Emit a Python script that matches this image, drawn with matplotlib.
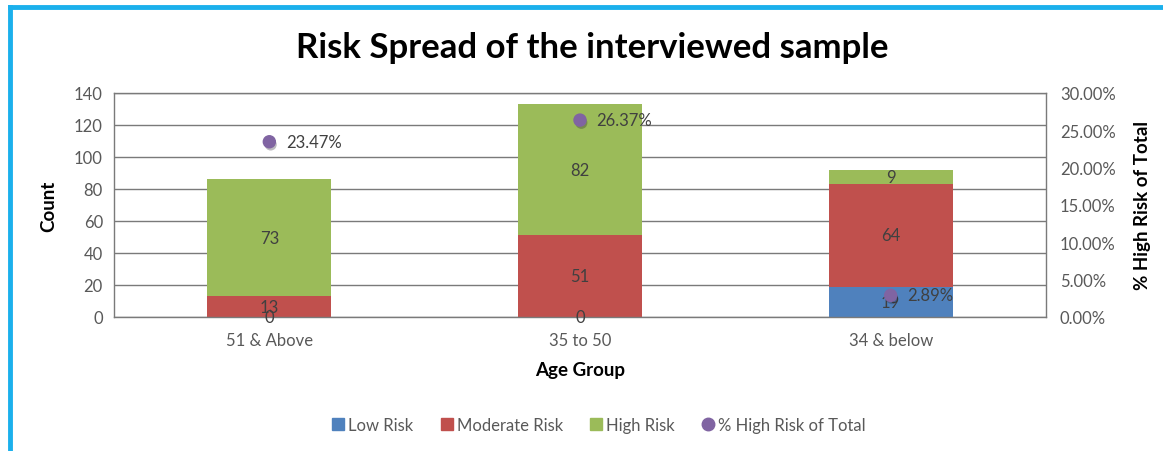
import matplotlib
matplotlib.use("Agg")
import matplotlib.pyplot as plt
import matplotlib.patheffects as pe
from matplotlib.lines import Line2D
from matplotlib.ticker import FuncFormatter, MultipleLocator
import numpy as np

plt.rcParams['font.family'] = ['Lato', 'DejaVu Sans']

categories = ["51 & Above", "35 to 50", "34 & below"]
low_risk = [0, 0, 19]
moderate_risk = [13, 51, 64]
high_risk = [73, 82, 9]
pct_high = [23.47, 26.37, 2.89]
series_names = ["Low Risk", "Moderate Risk", "High Risk", "% High Risk of Total"]

c_low = "#4F81BD"
c_mod = "#C0504D"
c_high = "#9BBB59"
c_pct = "#8064A2"
grid_c = "#7a7a7a"
tick_c = "#595959"
lab_c = "#404040"

fig = plt.figure(figsize=(11.63, 4.52), dpi=100)
ax = fig.add_axes([114/1163, 1-318/452, (1046-114)/1163, (318-94)/452])
x = np.arange(len(categories))
w = 0.40

low = np.array(low_risk)
mod = np.array(moderate_risk)
high = np.array(high_risk)

b1 = ax.bar(x, low, w, color=c_low, zorder=2, label=series_names[0])
b2 = ax.bar(x, mod, w, bottom=low, color=c_mod, zorder=2, label=series_names[1])
b3 = ax.bar(x, high, w, bottom=low + mod, color=c_high, zorder=2, label=series_names[2])

for bars, vals, bottoms in [(b1, low, np.zeros(3)), (b2, mod, low), (b3, high, low + mod)]:
    for xi, v, b in zip(x, vals, bottoms):
        ax.text(xi, b + v / 2, f"{v}", ha="center", va="center", fontsize=12,
                color=lab_c, zorder=5)

ax.set_xlim(-0.5, 2.5)
ax.set_ylim(0, 140)
ax.yaxis.set_major_locator(MultipleLocator(20))
ax.grid(axis="y", color=grid_c, linewidth=1.0, zorder=0)
ax.set_axisbelow(True)
for s in ax.spines.values():
    s.set_color(grid_c)
    s.set_linewidth(1.0)
ax.set_xticks(x)
ax.set_xticklabels(categories)
ax.tick_params(axis="both", length=0, labelsize=12, labelcolor=tick_c, pad=8)
ax.tick_params(axis="x", pad=11)
ax.set_ylabel("Count", fontsize=13.5, fontweight="bold", color="black", labelpad=12)
ax.set_xlabel("Age Group", fontsize=13.5, fontweight="bold", color="black", labelpad=9)

ax2 = ax.twinx()
ax2.set_ylim(0, 0.30)
ax2.yaxis.set_major_locator(MultipleLocator(0.05))
ax2.yaxis.set_major_formatter(FuncFormatter(lambda v, p: f"{v*100:.2f}%"))
ax2.tick_params(axis="y", length=0, labelsize=12, labelcolor=tick_c, pad=10)
for s in ax2.spines.values():
    s.set_visible(False)
pct = np.array(pct_high) / 100
sc = ax2.scatter(x, pct, s=75, color=c_pct, zorder=6, label=series_names[3],
                 path_effects=[pe.SimplePatchShadow(offset=(1, -2), alpha=0.3), pe.Normal()])
for xi, v in zip(x, pct_high):
    ax2.annotate(f"{v:.2f}%", (xi, v / 100), xytext=(12, 0), textcoords="offset points",
                 ha="left", va="center", fontsize=12, color=lab_c, zorder=7)
ax2.set_ylabel("% High Risk of Total", fontsize=13.5, fontweight="bold", color="black",
               labelpad=13)

fig.suptitle("Risk Spread of the interviewed sample", x=592/1163, y=1-48/452,
             va="center", fontsize=25, fontweight="bold", color="black")

handles = [
    Line2D([], [], marker="s", linestyle="none", color=c_low, markersize=8),
    Line2D([], [], marker="s", linestyle="none", color=c_mod, markersize=8),
    Line2D([], [], marker="s", linestyle="none", color=c_high, markersize=8),
    Line2D([], [], marker="o", linestyle="none", color=c_pct, markersize=9),
]
fig.legend(handles, series_names, loc="center", bbox_to_anchor=(598/1163, 1-426/452),
           ncol=4, frameon=False, fontsize=12, labelcolor=tick_c, handletextpad=0.1,
           columnspacing=1.5, handlelength=1.0)

border_c = "#1BB0EC"
fig.add_artist(Line2D([10/1163, 10/1163], [0, 1-8/452], color=border_c, linewidth=3.5,
                      transform=fig.transFigure))
fig.add_artist(Line2D([10/1163, 1], [1-8/452, 1-8/452], color=border_c, linewidth=3.5,
                      transform=fig.transFigure))

fig.savefig("out.png", dpi=100)
